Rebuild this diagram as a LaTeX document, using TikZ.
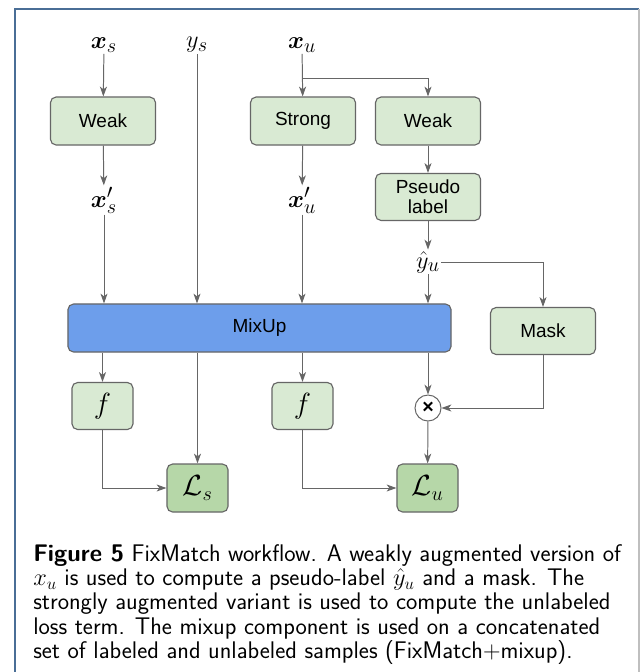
\documentclass[tikz,border=0pt]{standalone}
\usepackage{amsmath,amssymb}
\usepackage{fontspec}
\newfontfamily\boxfont{Liberation Sans}
\usepackage{tikz}
\usetikzlibrary{arrows.meta}
\usetikzlibrary{positioning,calc}
\definecolor{boxgreen}{HTML}{D9EAD3}
\definecolor{lossgreen}{HTML}{B6D7A8}
\definecolor{mixblue}{HTML}{6D9EEB}
\definecolor{linegray}{HTML}{666666}
\definecolor{framblue}{HTML}{4A6E96}
\tikzset{
	stepbox/.style={rectangle,rounded corners=4pt,draw=linegray,line width=0.8pt,fill=boxgreen,
		minimum width=2.625cm,minimum height=1.2cm,font=\boxfont\fontsize{13.5}{15.5}\selectfont,align=center},
	smallbox/.style={stepbox,minimum width=1.525cm,minimum height=1.175cm,font=\fontsize{20}{22}\selectfont},
	lossbox/.style={smallbox,fill=lossgreen,minimum height=1.2cm},
	varlabel/.style={inner sep=1pt,font=\fontsize{19}{21}\selectfont},
}
\begin{document}
\begin{tikzpicture}[x=0.025cm,y=-0.025cm]
	\useasboundingbox (0,0) rectangle (640,672);
	\fill[white] (0,0) rectangle (640,672);
	\draw[framblue,line width=1.2pt] (15,672) -- (15,9) -- (639,9);
	\draw[black!25,line width=1pt] (639,9) -- (639,672);

	\begin{scope}[every node/.style={varlabel}]
		\node (xs) at (104,45) {$\boldsymbol{x}_s$};
		\node (ys) at (197,45) {$y_s$};
		\node (xu) at (302,45) {$\boldsymbol{x}_u$};
		\node (xsp) at (104,200) {$\boldsymbol{x}'_s$};
		\node (xup) at (302,200) {$\boldsymbol{x}'_u$};
		\node (yhat) at (428,262) {$\hat{y}_u$};
	\end{scope}

	\node[stepbox] (weaks) at (103,121) {Weak};
	\node[stepbox] (strong) at (303,121) {Strong};
	\node[stepbox] (weaku) at (428,121) {Weak};
	\node[stepbox,minimum height=1.175cm] (pseudo) at (428,197) {Pseudo\\[-1pt]label};
	\node[stepbox,minimum height=1.175cm] (mask) at (543,331) {Mask};
	\node[stepbox,fill=mixblue,draw=linegray,minimum width=9.575cm] (mixup) at (259.5,328) {MixUp};
	\node[smallbox] (fs) at (102.5,406) {$f$};
	\node[smallbox] (fu) at (302.5,406) {$f$};
	\node[circle,draw=linegray,line width=0.7pt,fill=white,minimum size=0.65cm,inner sep=0pt,
		font=\boxfont\bfseries\fontsize{14}{14}\selectfont] (times) at (428,408) {×};
	\node[lossbox] (ls) at (197.5,488) {$\mathcal{L}_s$};
	\node[lossbox] (lu) at (427.5,488) {$\mathcal{L}_u$};
	\coordinate (split) at (302,78);

	\begin{scope}[draw=linegray,line width=0.7pt,>={Stealth[linegray,length=7pt,width=5pt,inset=2pt]}]
		\draw[->] (xs) -- (weaks);
		\draw[->] (weaks) -- (xsp);
		\draw[->] (xsp) -- (xsp |- mixup.north);
		\draw[->] (ys) -- (ys |- mixup.north);
		\draw[->] (xu) -- (strong);
		\draw[->] (split) -| (weaku.north);
		\draw[->] (strong) -- (xup);
		\draw[->] (xup) -- (xup |- mixup.north);
		\draw[->] (weaku) -- (pseudo);
		\draw[->] (pseudo) -- (yhat);
		\draw[->] (yhat) -- (yhat |- mixup.north);
		\draw[->] (yhat.east) -| (mask.north);
		\draw[->] (fs |- mixup.south) -- (fs);
		\draw[->] (ls |- mixup.south) -- (ls);
		\draw[->] (fu |- mixup.south) -- (fu);
		\draw[->] (times |- mixup.south) -- (times);
		\draw[->] (mask.south) |- (times.east);
		\draw[->] (times) -- (lu);
		\draw[->] (fs.south) |- (ls.west);
		\draw[->] (fu.south) |- (lu.west);
	\end{scope}

	\node[anchor=north west,inner sep=0pt,align=left,font=\sffamily\fontsize{17.1}{17.3}\selectfont] (caption) at (33,544)
		{\textbf{Figure 5} FixMatch workflow. A weakly augmented version of\\
		$x_u$ is used to compute a pseudo-label $\hat{y}_u$ and a mask. The\\
		strongly augmented variant is used to compute the unlabeled\\
		loss term. The mixup component is used on a concatenated\\
		set of labeled and unlabeled samples (FixMatch$+$mixup).};
\end{tikzpicture}
\end{document}
